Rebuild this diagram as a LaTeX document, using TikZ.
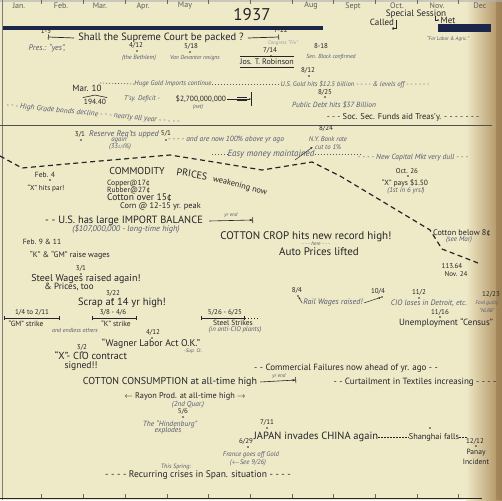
\documentclass[tikz,border=0pt]{standalone}
\usepackage{fontspec}
\setmainfont{PT Sans}
\usepackage{tikz}
\usetikzlibrary{arrows.meta, calc}
\definecolor{paper}{RGB}{238,233,198}
\definecolor{ink}{RGB}{36,36,42}
\definecolor{pencil}{RGB}{84,90,114}
\definecolor{navy}{RGB}{28,38,74}
\definecolor{tan}{RGB}{172,140,92}
\tikzset{
  lbl/.style={inner sep=0pt, text=ink},
  fs/.style={font=\fontsize{#1}{#1}\selectfont},
  fsn/.style={font=\fontsize{#1}{#1}\selectfont\itshape},
  head/.style={lbl, fs=10.5},
  txt/.style={lbl, fs=9},
  smalltxt/.style={lbl, fs=7.5},
  datemark/.style={lbl, fs=7},
  month/.style={lbl, text=ink!75, fs=8},
  note/.style={inner sep=0pt, text=pencil, fsn=7.5},
  tinynote/.style={inner sep=0pt, text=pencil, fsn=6.2},
  event/.style={circle, fill=ink, inner sep=0pt, minimum size=1.7pt},
  rangebar/.style={ink, line width=0.6pt, arrows={Bar[width=4pt]-Bar[width=4pt]}},
  trend/.style={ink, line width=1.2pt, dash pattern=on 5pt off 3.5pt},
  yrend/.style={ink, line width=0.6pt, arrows={-Stealth[length=3pt]Bar[width=6pt]}},
  leader/.style={pencil, line width=0.7pt, dash pattern=on 1.2pt off 1.8pt}
}

\begin{document}
\begin{tikzpicture}[x=1pt, y=-1pt]
  \useasboundingbox (0,0) rectangle (502,500);
  % ── Paper ─────────────────────────────────────────────────────────
  \fill[paper] (0,0) rectangle (502,500);
  \shade[left color=paper, right color=tan] (466,0) rectangle (502,500);
  \fill[tan!85!black, opacity=0.5] (496,0) rectangle (502,500);
  \fill[ink!35, opacity=0.6] (0,0) rectangle (502,2);
  \draw[ink!60, line width=0.8pt] (2,0) -- (2,500);

  % ── Months, ticks and rules ───────────────────────────────────────
  \foreach \m/\x in {Jan./19, Feb./61, Mar./100, Apr./143, May/185,
                     Aug/311, Sept/353, Oct./397, Nov./437, Dec/480}
    { \node[month] (mon-\x) at (\x,6) {\m}; }
  \node[lbl, fs=17] (year) at (252,15) {1937};
  \foreach \i in {1,...,11}
    { \draw[ink!70, line width=0.6pt] ({41.7*\i},0) -- ++(0,4);
      \draw[ink!70, line width=0.6pt] ({41.7*\i},498) -- ++(0,-4); }
  \draw[navy, line width=3.5pt] (3,28) -- (323,28);
  \draw[ink!80, line width=0.8pt] (0,125) -- (492,125);
  \draw[ink, line width=1pt] (0,498) -- (482,498);

  % ── Event dots ────────────────────────────────────────────────────
  \foreach \n/\x/\y in {e412/137/51, e518/190/52, e714/271/56, e812/309/76,
                        e825/325/97, ecall/393/29, e31a/81/140, e51/166/140,
                        efeb4/50/180, eoct/408/176, e31b/81/274, e322/113/299,
                        e412b/152/338, e32/82/352, e84/298/296, e104/382/297,
                        e112/419/298, e1116/440/317, e56/183/417, e711/267/428,
                        e629/248/447, e1212/476/446, eshang/430/428}
    { \node[event] (\n) at (\x,\y) {}; }

  % ── Supreme Court ─────────────────────────────────────────────────
  \node[datemark] (d15) at (46,31) {1-5};
  \node[head] (shall) at (161,38) {Shall the Supreme Court be packed ?};
  \coordinate (p15) at (48,37);
  \coordinate (p722) at (279,37);
  \draw[ink, line width=0.7pt, arrows={Bar[width=5pt]-}] (p15) -- ([xshift=-4pt]shall.west);
  \draw[ink, line width=0.7pt, arrows={-Bar[width=5pt]}] ([xshift=4pt]shall.east) -- (p722);
  \node[datemark] (d722) at (281,30) {7-22};
  \node[tinynote, fsn=8] (pres) at (47,48) {Pres.: “yes”,};
  \node[datemark] (d412) at (136,45.5) {4/12};
  \node[tinynote] (beth) at (139,57.5) {(the Bethlem)};
  \node[datemark] (d518) at (191,46) {5/18};
  \node[tinynote, fsn=5.8] (devan) at (195,58) {Van Devanter resigns};
  \node[tinynote, fsn=5.2, text=pencil!60] (cong) at (283,43) {Congress “Fix”};
  \node[datemark] (d714) at (270,50) {7/14};
  \node[lbl, fs=8] (rob) at (267,62) {Jos. T. Robinson};
  \draw[ink, line width=1.3pt] ([yshift=2.5pt]rob.north west) -- ([yshift=2.5pt]rob.north east);
  \draw[ink, line width=0.8pt] ([yshift=-2pt]rob.south west) -- ([yshift=-2pt]rob.south east);
  \node[datemark] (d818) at (321,46) {8-18};
  \node[tinynote, fsn=5.8] (black) at (331,57) {Sen. Black confirmed};
  \node[datemark] (d812) at (308,70) {8/12};

  % special session
  \node[lbl, fs=9.2] (sess) at (416,14) {Special Session};
  \node[txt] (called) at (382,22) {Called};
  \draw[ink, line width=0.5pt, -{Stealth[length=2pt]}] ([xshift=2pt,yshift=2pt]called.east) |- ([xshift=-1pt]ecall.north);
  \node[txt] (met) at (448,20) {Met};
  \draw[ink, line width=0.5pt, -{Stealth[length=2pt]}] ([xshift=-5pt,yshift=4pt]met.west) |- ([xshift=-1pt]met.west);
  \node[fill=navy, inner sep=0pt, minimum width=53pt, minimum height=8pt] (blk) at (464.5,28) {};
  \node[tinynote, fsn=5.2] (labor) at (448,39) {“For Labor \& Agric.”};

  % ── Money ─────────────────────────────────────────────────────────
  \node[txt] (mar10) at (87,88) {Mar. 10};
  \node[smalltxt] (low) at (95,101.5) {194.40};
  \draw[ink, line width=0.6pt] ([xshift=-1pt,yshift=1pt]low.north west)
    -- ([yshift=3.5pt]low.north) -- ([xshift=1pt,yshift=1pt]low.north east);
  \node[note, fsn=6.8] (tsy) at (142,99) {T’sy. Deficit -};
  \node[smalltxt] (deficit) at (201,99) {\$2,700,000,000};
  \node[tinynote, fsn=5.5] (net) at (198,107) {(net)};
  \coordinate (defbar) at (251,99);
  \draw[ink, line width=0.5pt] (237,97) -- (247,97) (237,100.5) -- (247,100.5);
  \draw[ink, line width=0.5pt, -{Stealth[length=2pt]}] ([xshift=1pt]deficit.east) -- (defbar);
  \draw[ink, line width=0.8pt] (251,92) -- (251,106);
  \coordinate (golddots) at (100,83);
  \node[note, fsn=6.8] (gold) at (173,84) {Huge Gold Imports continue};
  \node[note, fsn=6.8] (usgold) at (355,84) {U.S. Gold hits \$12.5 billion - - - - \& levels off - - - - - -};
  \draw[leader] (golddots) -- (gold.west);
  \draw[leader] (gold.east) -- (usgold.west);
  \node[datemark] (d825) at (325,92) {8/25};
  \node[note] (debt) at (334,105) {Public Debt hits \$37 Billion};
  \node[note, rotate=-5.5] (bonds) at (93,114) {- - - High Grade bonds decline - - - nearly all year - - - - -};
  \node[txt, fs=8.5] (socsec) at (403,117) {- - - Soc. Sec. Funds aid Treas’y. - - - - - - -};

  % ── Commodity prices ──────────────────────────────────────────────
  \draw[trend] (0,156) -- (22,168) -- (100,161) -- (170,155) -- (220,163) -- (262,170)
    -- (312,162) -- (340,176) -- (430,230) -- (442,249) -- (478,263);
  \node[datemark] (d31a) at (80,134) {3/1};
  \node[note, fsn=8.2] (resv) at (124,134) {Reserve Req’ts upped};
  \node[note, fsn=6.8] (again) at (119,140) {again};
  \node[note, fsn=6.8] (pct) at (120,147) {(33{\fontsize{4.5}{5}\selectfont 1/3}\%)};
  \node[datemark] (d51) at (166,133) {5/1};
  \node[note] (above) at (226,140) {- - - - and are now 100\% above yr ago};
  \node[datemark] (d824) at (326,128) {8/24};
  \node[note, fsn=6.8] (nyb) at (328,139) {N.Y. Bank rate};
  \node[note, fsn=6.8] (cut) at (328,147) {cut to 1\%};
  \coordinate (nyfoot) at (295,160);
  \draw[ink, line width=0.5pt, -{Stealth[length=2.5pt]}] (nyfoot) -- ([xshift=-2pt]cut.west);
  \coordinate (easy0) at (212,154);
  \coordinate (easy1) at (360,154);
  \node[note, fsn=9] (easy) at (271,154) {Easy money maintained};
  \draw[leader] (easy0) -- (easy.west);
  \draw[leader] (easy.east) -- (easy1);
  \node[note] (dull) at (413,158) {- - - - New Capital Mkt very dull - - -};
  \node[lbl, fs=10] (comm) at (137,171) {COMMODITY};
  \node[lbl, fs=10, rotate=-9] (prices) at (192,174) {PRICES};
  \node[lbl, fs=8.3, rotate=-14] (weak) at (240,186) {weakening now};
  \node[smalltxt] (feb4) at (45,175) {Feb. 4};
  \node[lbl, fs=7.2] (par) at (46,188) {“X” hits par!};
  \node[smalltxt, anchor=west] (copper) at (107,184) {Copper@17¢};
  \node[smalltxt, anchor=west] (rubber) at (107,191) {Rubber@27¢};
  \node[lbl, fs=9.5, anchor=west] (cotover) at (107,198) {Cotton over 15¢};
  \node[lbl, fs=8.3, anchor=west] (corn) at (120,206) {Corn @ 12-15 yr. peak};
  \node[head] (imp) at (124,221) {- - U.S. has large IMPORT BALANCE};
  \coordinate (ye1) at (253,220);
  \draw[yrend] ([xshift=6pt]imp.east) -- (ye1);
  \node[tinynote, fsn=5.2] (ye1t) at (231,215) {yr end};
  \node[note, fsn=8.3] (impval) at (126,229.5) {(\$107,000,000 - long-time high)};
  \node[smalltxt] (feb911) at (42,242) {Feb. 9 \& 11};
  \node[lbl, fs=11] (crop) at (306,237) {COTTON CROP hits new record high!};
  \node[tinynote, fsn=5.2] (here) at (316,244) {- - - here - - -};
  \node[lbl, fs=11] (auto) at (319,252) {Auto Prices lifted};
  \node[datemark] (oct26) at (407,171) {Oct. 26};
  \node[smalltxt] (xpays) at (405,183) {“X” pays \$1.50};
  \node[tinynote, fsn=7] (first) at (406,191) {(1st in 6 yrs!)};
  \node[lbl, fs=8.2] (below8) at (462,233) {Cotton below 8¢};
  \node[tinynote, fsn=7] (seemar) at (459,240) {(see Mar)};
  \node[datemark] (low113) at (452,266) {113.64};
  \node[datemark] (nov24) at (456,274) {Nov. 24};

  % ── Labour ────────────────────────────────────────────────────────
  \node[lbl, fs=8] (kgm) at (70,255) {“K” \& “GM” raise wages};
  \node[datemark] (d31b) at (81,268) {3/1};
  \node[lbl, fs=10] (steel) at (86,279) {Steel Wages raised again!};
  \node[txt] (prices2) at (69,287) {\& Prices, too};
  \node[datemark] (d322) at (113,293) {3/22};
  \node[lbl, fs=10.5] (scrap) at (122,303) {Scrap at 14 yr high!};
  \node[datemark] (gmdates) at (32,312) {1/4 to 2/11};
  \coordinate (gm1) at (4,318);
  \coordinate (gm2) at (60,318);
  \draw[rangebar] (gm1) -- (gm2);
  \node[smalltxt] (gmstrike) at (26,324) {“GM” strike};
  \node[tinynote, fsn=6] (endless) at (75,330) {and endless others};
  \node[datemark] (kdates) at (113,312) {3/8 - 4/6};
  \coordinate (k1) at (92,318);
  \coordinate (k2) at (137,318);
  \draw[rangebar] (k1) -- (k2);
  \node[smalltxt] (kstrike) at (116,324) {“K” strike};
  \node[datemark] (d412b) at (153,332) {4/12};
  \node[lbl, fs=9.7] (wagner) at (151,344) {“Wagner Labor Act O.K.”};
  \node[tinynote, fsn=5.2] (supct) at (193,351) {-Sup. Ct.};
  \node[datemark] (d32) at (82,347) {3/2};
  \node[lbl, fs=10.2] (cio) at (91,356) {“X”- CIO contract};
  \node[lbl, fs=9.6] (signed) at (81,366.5) {signed!!};
  \node[datemark] (sdates) at (225,312) {5/26 - 6/25};
  \coordinate (s1) at (201,318);
  \coordinate (s2) at (245,318);
  \coordinate (s3) at (260,318);
  \draw[rangebar] (s1) -- (s2);
  \draw[leader, ink] (s2) -- (s3);
  \node[smalltxt] (sstrikes) at (233,323) {Steel Strikes};
  \node[tinynote, fsn=6.8] (anticio) at (235,330) {(in anti-CIO plants)};
  \node[datemark] (d84) at (297,290) {8/4};
  \node[datemark] (d104) at (378,291) {10/4};
  \node[note, fsn=8] (rail) at (333,303) {Rail Wages raised!};
  \draw[ink, line width=0.5pt, -{Stealth[length=2.5pt]}] ([xshift=-1pt]rail.west) -- (e84);
  \draw[ink, line width=0.5pt, -{Stealth[length=2.5pt]}] ([xshift=1pt]rail.east) -- (e104);
  \node[datemark] (d112) at (419,292) {11/2};
  \node[tinynote, fsn=7.8] (detroit) at (429,303) {CIO loses in Detroit, etc.};
  \node[datemark] (d1223) at (491,294) {12/23};
  \node[tinynote, fsn=5.2] (ford) at (487,303) {Ford guilty};
  \node[tinynote, fsn=5.2] (nlrb) at (487,311) {“NLRB”};
  \node[datemark] (d1116) at (440,312) {11/16};
  \node[txt] (census) at (446,323) {Unemployment “Census”};
  \node[txt] (failures) at (346,368) {- - Commercial Failures now ahead of yr. ago - -};

  % ── Textiles and abroad ───────────────────────────────────────────
  \node[lbl, fs=10] (consump) at (170,382) {COTTON CONSUMPTION at all-time high};
  \coordinate (ye2) at (296,380);
  \draw[yrend] ([xshift=3pt]consump.east) -- (ye2);
  \node[tinynote, fsn=5.2] (ye2t) at (279,376) {yr end};
  \node[txt] (curtail) at (415,382) {- - Curtailment in Textiles increasing - - - -};
  \node[lbl, fs=8.3] (rayon) at (185,396.5) {$\leftarrow$ Rayon Prod. at all-time high $\rightarrow$};
  \node[tinynote, fsn=7.2] (quar) at (188,404.5) {(2nd Quar.)};
  \node[datemark] (d56) at (183,411.5) {5/6};
  \node[tinynote, fsn=7.5] (hind) at (170,424) {The “Hindenburg”};
  \node[tinynote, fsn=7.5] (expl) at (168,431) {explodes};
  \node[datemark] (d711) at (267,422) {7/11};
  \node[head] (japan) at (316,437) {JAPAN invades CHINA again};
  \node[lbl, fs=8.3] (shanghai) at (434,437) {Shanghai falls};
  \coordinate (shang1) at (467,437);
  \draw[leader, ink] (japan.east) -- (shanghai.west);
  \draw[leader, ink] (shanghai.east) -- (shang1);
  \node[datemark] (d629) at (246,441) {6/29};
  \node[tinynote, fsn=6.8] (france) at (251,454.5) {France goes off Gold};
  \node[tinynote, fsn=6.8] (see926) at (248,462.5) {($\leftarrow$See 9/26)};
  \node[datemark] (d1212) at (475,441) {12/12};
  \node[smalltxt] (panay) at (476,453) {Panay};
  \node[smalltxt] (incident) at (476,462) {Incident};
  \node[tinynote] (spring) at (176,467) {This Spring:};
  \node[lbl, fs=9.5] (spain) at (198,475) {- - - - Recurring crises in Span. situation - - - -};
\end{tikzpicture}
\end{document}
